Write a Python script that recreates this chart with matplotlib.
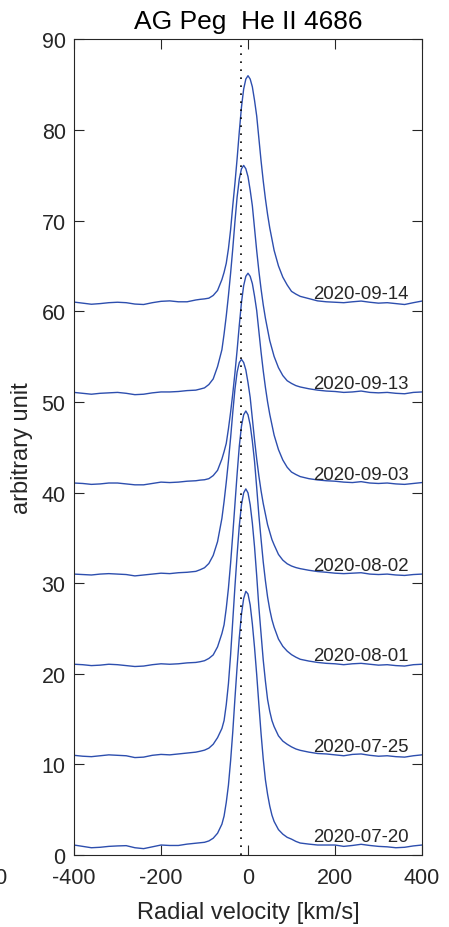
import matplotlib
matplotlib.use("Agg")
import matplotlib.pyplot as plt

plt.rcParams['font.family'] = ['Liberation Sans', 'DejaVu Sans']
plt.rcParams['axes.unicode_minus'] = False

# Radial velocity grid [km/s] shared by all spectra
velocity = [-400, -380, -360, -340, -320, -300, -280, -260, -240, -220, -200, -180, -160, -140, -120,
            -110, -100, -90, -80, -70,
            -60, -55, -50, -45, -40, -35, -30, -25, -20, -15, -10, -5, 0, 5, 10, 15, 20, 25, 30, 35, 40, 45, 50, 55, 60,
            70, 80, 90, 100, 110,
            120, 140, 160, 180, 200, 220, 240, 260, 280, 300, 320, 340, 360, 380, 400]

# He II 4686 line profiles (arbitrary units, before vertical offset)
flux_0720 = [1.10, 0.95, 0.80, 0.85, 0.95, 1.00, 1.03, 0.80, 0.70, 0.90, 1.10, 1.05, 1.05, 1.20, 1.30,
             1.35, 1.40, 1.55, 1.85, 2.40,
             3.40, 4.30, 5.80, 7.70, 10.40, 13.60, 17.30, 20.80, 24.00, 26.60, 28.30, 29.10, 28.80, 27.60, 25.50,
             22.90, 19.90, 16.60, 13.40, 10.60, 8.30, 6.70, 5.40, 4.40, 3.70,
             2.80, 2.30, 1.95, 1.75, 1.50,
             1.32, 1.20, 1.10, 1.10, 1.10, 0.95, 1.05, 1.18, 1.05, 0.95, 0.90, 0.80, 0.85, 1.00, 1.10]

flux_0725 = [1.00, 0.90, 0.85, 0.95, 1.05, 1.00, 0.95, 0.75, 0.80, 1.00, 1.10, 1.05, 1.15, 1.25, 1.35,
             1.45, 1.57, 1.79, 2.22, 2.95,
             3.96, 4.84, 6.58, 8.90, 12.10, 15.88, 19.65, 23.14, 26.33, 28.66, 29.96, 30.40, 29.96, 28.66, 26.62,
             24.01, 20.81, 17.33, 14.42, 11.52, 9.19, 7.16, 5.85, 4.84, 4.17,
             3.15, 2.57, 2.22, 1.93, 1.70,
             1.55, 1.35, 1.20, 1.15, 1.05, 0.95, 1.10, 1.15, 1.00, 0.90, 0.95, 0.85, 0.80, 0.95, 1.05]

flux_0801 = [1.05, 1.00, 0.90, 0.95, 1.05, 1.00, 0.90, 0.80, 0.85, 1.00, 1.10, 1.05, 1.10, 1.20, 1.25,
             1.33, 1.44, 1.69, 2.08, 2.97,
             4.44, 5.41, 7.22, 9.44, 12.21, 15.40, 18.73, 22.06, 25.12, 27.34, 28.58, 29.00, 28.58, 27.47, 25.67,
             23.45, 20.54, 17.48, 14.85, 12.35, 10.27, 8.47, 7.08, 5.97, 5.14,
             3.83, 3.03, 2.50, 2.11, 1.83,
             1.60, 1.40, 1.25, 1.15, 1.10, 1.00, 1.10, 1.15, 1.05, 0.95, 1.00, 0.90, 0.85, 1.00, 1.05]

flux_0802 = [1.00, 0.95, 0.90, 1.00, 1.05, 1.00, 0.95, 0.80, 0.90, 1.00, 1.10, 1.05, 1.15, 1.20, 1.30,
             1.48, 1.70, 2.17, 3.06, 4.58,
             7.15, 9.02, 11.13, 13.47, 16.04, 18.85, 21.42, 23.30, 24.35, 24.70, 24.35, 23.53, 22.13, 20.49, 18.15,
             15.81, 13.70, 11.83, 10.19, 8.79, 7.62, 6.45, 5.63, 4.81, 4.23,
             3.17, 2.54, 2.14, 1.89, 1.72,
             1.60, 1.42, 1.28, 1.20, 1.10, 1.05, 1.10, 1.15, 1.00, 0.95, 1.00, 0.90, 0.85, 0.95, 1.00]

flux_0903 = [1.05, 1.00, 0.90, 0.95, 1.05, 1.05, 0.95, 0.85, 0.85, 1.00, 1.15, 1.10, 1.15, 1.25, 1.30,
             1.37, 1.41, 1.53, 1.87, 2.45,
             3.70, 4.51, 5.42, 7.03, 8.86, 10.92, 13.21, 15.73, 18.48, 20.99, 22.83, 23.86, 24.20, 23.86, 23.06,
             21.68, 20.08, 17.79, 15.50, 13.44, 11.61, 10.00, 8.63, 7.48, 6.34,
             4.74, 3.59, 2.79, 2.26, 1.99,
             1.76, 1.53, 1.39, 1.30, 1.25, 1.15, 1.10, 1.20, 1.05, 1.00, 1.05, 0.95, 0.90, 1.00, 1.10]

flux_0913 = [1.05, 0.95, 0.85, 0.95, 1.00, 1.05, 0.95, 0.80, 0.85, 1.00, 1.10, 1.10, 1.15, 1.25, 1.30,
             1.42, 1.55, 1.92, 2.54, 3.90,
             5.76, 7.50, 9.48, 11.72, 14.20, 16.92, 19.90, 22.63, 24.61, 25.73, 26.10, 25.73, 24.86, 23.37, 21.64,
             19.16, 16.68, 14.44, 12.46, 10.72, 9.24, 8.00, 6.76, 5.89, 5.02,
             3.78, 2.91, 2.34, 2.04, 1.80,
             1.65, 1.45, 1.30, 1.20, 1.15, 1.05, 1.10, 1.20, 1.05, 1.00, 1.05, 0.95, 0.90, 1.05, 1.10]

flux_0914 = [1.02, 0.90, 0.78, 0.85, 0.95, 1.00, 0.95, 0.80, 0.75, 0.95, 1.10, 1.15, 1.05, 1.05, 1.25,
             1.32, 1.37, 1.45, 1.75, 2.30,
             3.50, 4.30, 5.30, 6.90, 9.00, 11.67, 14.14, 16.86, 19.83, 22.54, 24.52, 25.63, 26.00, 25.63, 24.77,
             23.28, 21.55, 19.08, 16.61, 14.39, 12.42, 10.69, 9.20, 7.97, 6.73,
             5.01, 3.77, 2.91, 2.20, 1.90,
             1.65, 1.40, 1.15, 1.05, 1.00, 0.95, 1.05, 1.13, 1.00, 0.90, 0.95, 0.85, 0.75, 0.95, 1.13]

dates = ['2020-07-20', '2020-07-25', '2020-08-01', '2020-08-02',
         '2020-09-03', '2020-09-13', '2020-09-14']
spectra = [flux_0720, flux_0725, flux_0801, flux_0802, flux_0903, flux_0913, flux_0914]
offsets = [0, 10, 20, 30, 40, 50, 60]
systemic_velocity = -16

line_color = '#2d4eae'
axis_color = '#262626'

fig = plt.figure(figsize=(4.49, 9.28), dpi=100)
ax = fig.add_axes([0.1648, 0.0776, 0.7751, 0.8788])

for flux, off, date in zip(spectra, offsets, dates):
    ax.plot(velocity, [f + off for f in flux], color=line_color, lw=1.0)
    ax.text(150, off + 1.5, date, fontsize=13.4, color=axis_color,
            ha='left', va='baseline')

ax.plot([systemic_velocity, systemic_velocity], [0, 90], color='black',
        lw=1.2, linestyle=(0, (1, 3.8)))

ax.set_xlim(-400, 400)
ax.set_ylim(0, 90)
ax.set_xticks([-400, -200, 0, 200, 400])
ax.set_yticks(range(0, 91, 10))
ax.tick_params(direction='in', top=True, right=True, length=7, width=0.8,
               colors=axis_color, labelsize=15.5)
ax.tick_params(axis='x', pad=9)
ax.tick_params(axis='y', pad=6)
for sp in ax.spines.values():
    sp.set_color(axis_color)
    sp.set_linewidth(0.8)

ax.set_title('AG Peg  He II 4686', fontsize=19, pad=8, color='black')
ax.set_xlabel('Radial velocity [km/s]', fontsize=17, color=axis_color)
ax.xaxis.label.set_va('baseline')
ax.xaxis.set_label_coords(0.5, -0.0773)
ax.set_ylabel('arbitrary unit', fontsize=17, color=axis_color)
ax.yaxis.label.set_va('center')
ax.yaxis.set_label_coords(-0.149, 0.5)

# partially visible tick label of the neighbouring panel
ax.annotate('400', xy=(-553, 0), xycoords=('data', 'axes fraction'),
            xytext=(0, -9), textcoords='offset points', ha='right', va='top',
            fontsize=15.5, color=axis_color, annotation_clip=False)

fig.savefig('out.png', dpi=100)
